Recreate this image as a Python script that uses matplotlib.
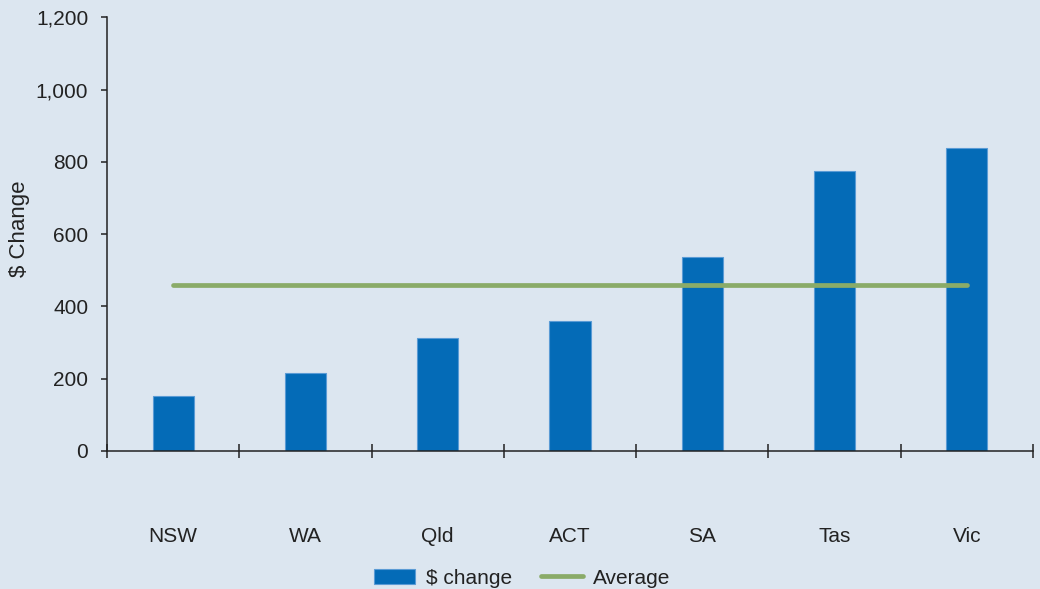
import matplotlib
matplotlib.use("Agg")
import matplotlib.pyplot as plt
import numpy as np

# Daten
states = ["NSW", "WA", "Qld", "ACT", "SA", "Tas", "Vic"]
dollar_change = [151, 215, 314, 359, 538, 775, 838]
average = 458
yticks = [0, 200, 400, 600, 800, 1000, 1200]

bg = "#dce6f0"
barcol = "#046bb7"
greencol = "#8aab68"

plt.rcParams['font.family'] = ['Liberation Sans', 'DejaVu Sans']
plt.rcParams['font.size'] = 15

fig = plt.figure(figsize=(10.4, 5.89), dpi=100, facecolor=bg)
ax = fig.add_axes([107/1040, 1 - 451/589, (1033-107)/1040, (451-17.3)/589])
ax.set_facecolor(bg)

x = np.arange(len(states))
bars = ax.bar(x, dollar_change, width=0.31, color=barcol, edgecolor="#5a9bd5",
              linewidth=0.8, label="$ change", zorder=2)
avgline, = ax.plot([x[0], x[-1]], [average, average], color=greencol, lw=3.4,
                   solid_capstyle="round", label="Average", zorder=3)

ax.set_xlim(-0.5, len(states) - 0.5)
ax.set_ylim(0, 1200)
ax.set_yticks(yticks)
ax.set_yticklabels(["{:,}".format(v) for v in yticks])
ax.set_ylabel("$ Change", fontsize=16, color="#222222", va="center")
ax.yaxis.set_label_coords(-0.094, 0.512)

# Trennstriche zwischen Kategorien, Labels in der Mitte
ax.set_xticks(np.arange(-0.5, len(states)), minor=False)
ax.set_xticklabels([])
ax.set_xticks(x, minor=True)
ax.set_xticklabels(states, minor=True)
ax.tick_params(axis="x", which="major", direction="inout", length=10, width=1.1, color="#222222")
ax.tick_params(axis="x", which="minor", length=0, pad=55, labelsize=15, labelcolor="#222222")
ax.tick_params(axis="y", direction="out", length=4.5, width=1.1, color="#222222",
               labelsize=15, labelcolor="#222222", pad=9)

for s in ["top", "right"]:
    ax.spines[s].set_visible(False)
for s in ["left", "bottom"]:
    ax.spines[s].set_linewidth(1.1)
    ax.spines[s].set_color("#222222")

fig.legend([bars, avgline], ["$ change", "Average"], loc="center",
           bbox_to_anchor=(522/1040, 1 - 578/589), ncol=2, frameon=False,
           handlelength=2.0, handletextpad=0.5, columnspacing=1.4, fontsize=15,
           labelcolor="#222222")

fig.savefig("out.png", dpi=100, facecolor=bg)
